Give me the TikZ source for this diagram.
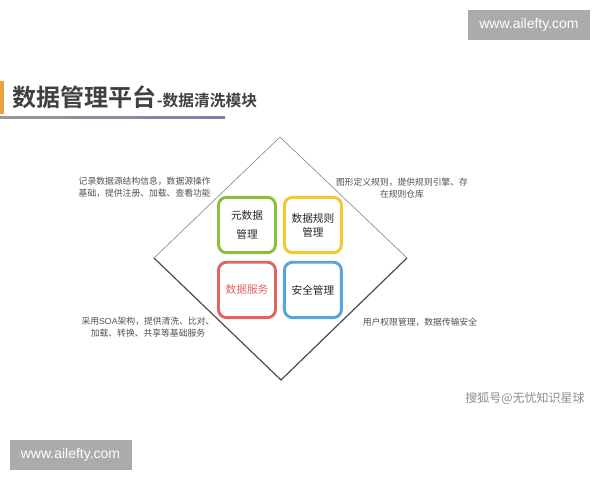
\documentclass[tikz,border=0pt]{standalone}
\usepackage{fontspec}
\setmainfont{Noto Sans CJK SC}
\newfontfamily\cjkbold{Noto Sans CJK SC Bold}
\newfontfamily\websans{Liberation Sans}
\usetikzlibrary{positioning}
\definecolor{metagreen}{HTML}{8CBE3C}
\definecolor{ruleyellow}{HTML}{F0C830}
\definecolor{servred}{HTML}{E06464}
\definecolor{safeblue}{HTML}{55A5E0}
\definecolor{notegray}{HTML}{505050}
\definecolor{barorange}{HTML}{E8A040}
\tikzset{
    x=0.75pt, y=-0.75pt, % one unit is one pixel of the reference
    module/.style={draw, line width=2.2pt, rounded corners=6pt, minimum width=42.75pt, minimum height=41.5pt, inner sep=1pt, align=center, text=black!85, font=\fontsize{8}{10.5}\selectfont}, % the four coloured boxes
    note/.style={text=notegray, align=center, font=\fontsize{6.6}{9}\selectfont}, % the small descriptions
    mark box/.style={fill=black!33, text=white, font=\websans\fontsize{10.5}{12}\selectfont, minimum width=91.5pt, minimum height=22pt, inner sep=0pt}, % grey site stamps
}

\begin{document}
\begin{tikzpicture}
    \useasboundingbox (0,0) rectangle (600,480);
    % heading
    \fill[barorange] (0,81) rectangle (4,114);
    \shade[left color=black!40, middle color=black!8, right color=blue!30!black!50] (0,116.5) rectangle (225,118);
    \node[anchor=base west, inner sep=0pt, text=black!75, font=\cjkbold\fontsize{18}{20}\selectfont] (title) at (12,106) {数据管理平台};
    \node[anchor=base west, inner sep=0pt, text=black!75, font=\cjkbold\fontsize{11.8}{13}\selectfont] (subtitle) at (title.base east) {-数据清洗模块};
    % diamond
    \coordinate (top) at (280,137);
    \coordinate (east) at (407,258);
    \coordinate (bottom) at (281,380);
    \coordinate (west) at (154,258);
    \draw[black!45, line width=0.5pt] (west) -- (top) -- (east);
    \draw[black!70, line width=0.9pt] (west) -- (bottom) -- (east);
    % modules
    \node[module, draw=metagreen] (meta) at (247,225) {元数据\\[4pt]管理};
    \node[module, draw=ruleyellow, right=4.5pt of meta] (rule) {数据规则\\管理};
    \node[module, draw=servred, text=servred, below=5pt of meta] (serv) {数据服务};
    \node[module, draw=safeblue, right=4.5pt of serv] (safe) {安全管理};
    % descriptions
    \node[note, align=left, anchor=west] (metanote) at (74,187) {记录数据源结构信息，数据源操作\\基础，提供注册、加载、查看功能};
    \node[note] (rulenote) at (402,188) {图形定义规则，提供规则引擎、存\\在规则仓库};
    \node[note] (servnote) at (148,327) {采用\websans SOA\normalfont 架构，提供清洗、比对、\\加载、转换、共享等基础服务};
    \node[note] (safenote) at (420,322) {用户权限管理，数据传输安全};
    % stamps
    \node[mark box] (stampa) at (529,25) {www.ailefty.com};
    \node[mark box] (stampb) at (70.5,455) {www.ailefty.com};
    \node[text=black!45, font=\fontsize{9}{11}\selectfont] (sohu) at (525,398) {搜狐号@无忧知识星球};
\end{tikzpicture}
\end{document}
